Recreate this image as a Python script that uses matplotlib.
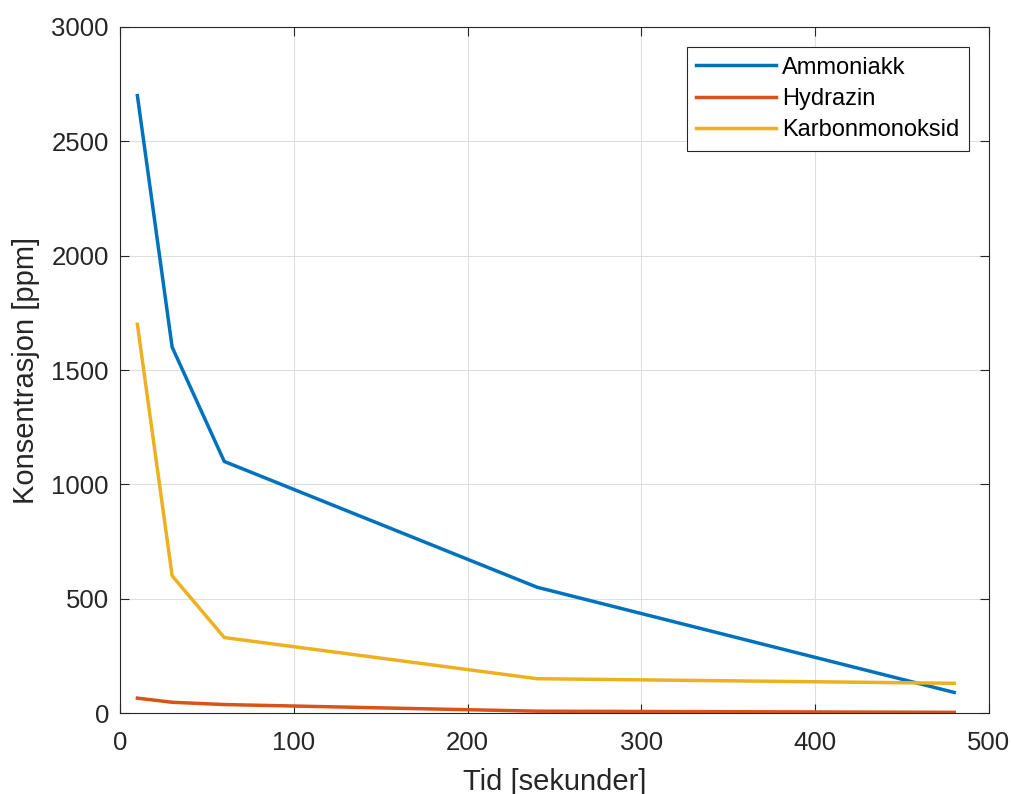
import matplotlib
matplotlib.use("Agg")
import matplotlib.pyplot as plt

plt.rcParams['font.family'] = ['Liberation Sans', 'DejaVu Sans']

tid = [10, 30, 60, 240, 480]
ammoniakk = [2700, 1600, 1100, 550, 90]
hydrazin = [65, 47, 37, 8, 3]
karbonmonoksid = [1700, 600, 330, 150, 130]

fig = plt.figure(figsize=(10.11, 7.94), dpi=100)
ax = fig.add_axes([0.1187, 0.102, 0.8595, 0.864])

ax.plot(tid, ammoniakk, color=(0, 0.447, 0.741), lw=2.5, label='Ammoniakk')
ax.plot(tid, hydrazin, color=(0.85, 0.325, 0.098), lw=2.5, label='Hydrazin')
ax.plot(tid, karbonmonoksid, color=(0.929, 0.694, 0.125), lw=2.5, label='Karbonmonoksid')

ax.set_xlim(0, 500)
ax.set_ylim(0, 3000)
ax.set_xticks(range(0, 501, 100))
ax.set_yticks(range(0, 3001, 500))
ax.grid(True, color='#dfdfdf', lw=0.8)
ax.set_axisbelow(True)
ax.tick_params(direction='in', labelsize=18.5, length=6.5, color='#262626', labelcolor='#262626', top=True, right=True)
ax.tick_params(axis='y', pad=8)
ax.tick_params(axis='x', pad=13)
for s in ax.spines.values():
    s.set_color('#262626')
    s.set_linewidth(0.8)

ax.set_xlabel('Tid [sekunder]', fontsize=21, color='#262626', labelpad=9)
ax.set_ylabel('Konsentrasjon [ppm]', fontsize=21, color='#262626', labelpad=8)

leg = ax.legend(loc='upper right', fontsize=17, fancybox=False, framealpha=1,
                edgecolor='#262626', handlelength=3.4, handletextpad=0.25,
                labelspacing=0.4, borderpad=0.4, borderaxespad=0.85)
leg.get_frame().set_linewidth(0.8)

fig.savefig('out.png', dpi=100)
